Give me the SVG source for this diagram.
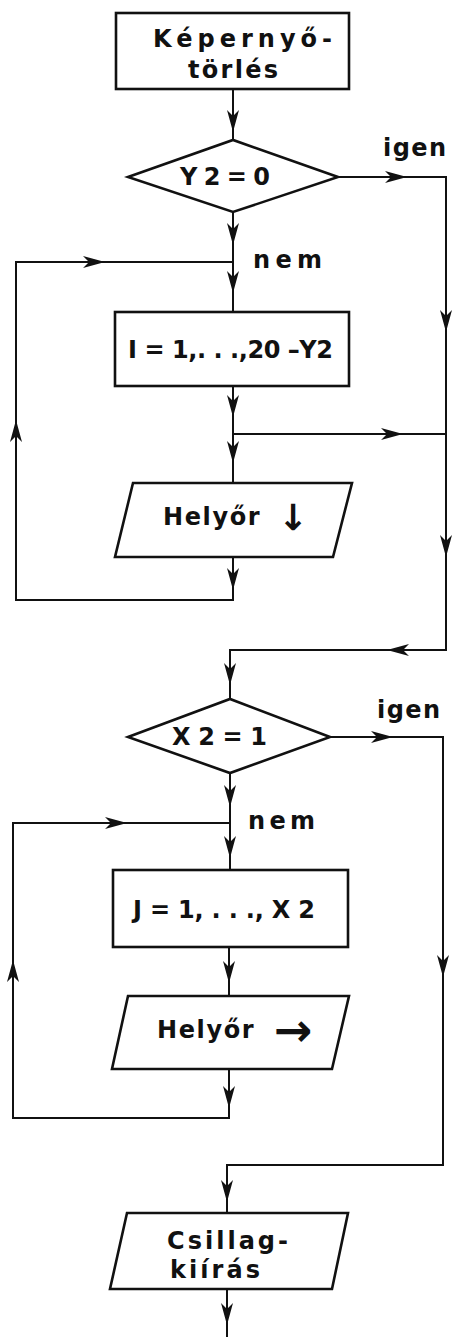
<svg xmlns="http://www.w3.org/2000/svg" width="452" height="1337" viewBox="0 0 452 1337">
<style>
.shape{fill:#fff;stroke:#111;stroke-width:2.6;stroke-linejoin:miter}
.ln{fill:none;stroke:#111;stroke-width:2}
.ah{fill:none;stroke:none;marker-end:url(#arr)}
text{font-family:"DejaVu Sans","Liberation Sans",sans-serif;font-size:24px;font-weight:bold;fill:#111}
</style>
<defs>
<marker id="arr" viewBox="0 0 22 12" refX="22" refY="6" markerWidth="22" markerHeight="12" markerUnits="userSpaceOnUse" orient="auto">
<path d="M0,0 L22,6 L0,12 L6,6 z" fill="#111"/>
</marker>
</defs>
<rect width="452" height="1337" fill="#fff"/>
<g id="connectors">
<path class="ln" d="M233,89 V140"/>
<path class="ln" d="M338,177 H446 V650 H230 V699"/>
<path class="ln" d="M233,212 V312"/>
<path class="ln" d="M233,386 V483"/>
<path class="ln" d="M233,434 H446"/>
<path class="ln" d="M233,557 V600 H16 V262 H233"/>
<path class="ln" d="M330,737 H443 V1165 H227 V1213"/>
<path class="ln" d="M230,773 V870"/>
<path class="ln" d="M229,947 V996"/>
<path class="ln" d="M229,1069 V1118 H13 V823 H230"/>
<path class="ln" d="M227,1289 V1337"/>
<path class="ah" d="M233,118 V132"/>
<path class="ah" d="M393,177 H407"/>
<path class="ah" d="M233,231 V245"/>
<path class="ah" d="M233,279 V293"/>
<path class="ah" d="M91,262 H105"/>
<path class="ah" d="M446,318 V332"/>
<path class="ah" d="M16,434 V420"/>
<path class="ah" d="M233,403 V417"/>
<path class="ah" d="M389,434 H403"/>
<path class="ah" d="M233,449 V463"/>
<path class="ah" d="M446,543 V557"/>
<path class="ah" d="M233,576 V590"/>
<path class="ah" d="M401,650 H387"/>
<path class="ah" d="M230,671 V685"/>
<path class="ah" d="M379,737 H393"/>
<path class="ah" d="M230,793 V807"/>
<path class="ah" d="M113,823 H127"/>
<path class="ah" d="M230,844 V858"/>
<path class="ah" d="M443,963 V977"/>
<path class="ah" d="M13,974 V960"/>
<path class="ah" d="M229,969 V983"/>
<path class="ah" d="M229,1094 V1108"/>
<path class="ah" d="M227,1188 V1202"/>
<path class="ah" d="M227,1311 V1325"/>
</g>
<g id="n-kepernyo">
<rect class="shape" x="116" y="13" width="233" height="76"/>
<text x="153" y="47" textLength="179" lengthAdjust="spacing">Képernyő-</text>
<text x="188" y="78" textLength="90" lengthAdjust="spacing">törlés</text>
</g>
<g id="n-y2">
<polygon class="shape" points="128,177 233,140 338,177 233,212"/>
<text x="180" y="185" textLength="90" lengthAdjust="spacing">Y2=0</text>
</g>
<g id="lbl-igen1"><text x="383" y="156" textLength="63" lengthAdjust="spacing">igen</text></g>
<g id="lbl-nem1"><text x="253" y="268" textLength="69" lengthAdjust="spacing">nem</text></g>
<g id="n-loop-i">
<rect class="shape" x="115" y="312" width="234" height="74"/>
<text x="128" y="358" textLength="205" lengthAdjust="spacing">I = 1,. . .,20 –Y2</text>
</g>
<g id="n-helyor1">
<polygon class="shape" points="133,483 352,483 333,557 115,557"/>
<text x="163" y="525" letter-spacing="1.6">Helyőr<tspan x="278" y="530" font-size="36" letter-spacing="0">↓</tspan></text>
</g>
<g id="n-x2">
<polygon class="shape" points="128,737 230,699 330,737 230,773"/>
<text x="172" y="745" textLength="95" lengthAdjust="spacing">X 2 = 1</text>
</g>
<g id="lbl-igen2"><text x="377" y="718" textLength="63" lengthAdjust="spacing">igen</text></g>
<g id="lbl-nem2"><text x="248" y="829" textLength="67" lengthAdjust="spacing">nem</text></g>
<g id="n-loop-j">
<rect class="shape" x="113" y="870" width="235" height="77"/>
<text x="133" y="918" textLength="182" lengthAdjust="spacing">J = 1, . . ., X 2</text>
</g>
<g id="n-helyor2">
<polygon class="shape" points="128,996 349,996 332,1069 112,1069"/>
<text x="157" y="1038" letter-spacing="1.6">Helyőr<tspan x="274" y="1046" font-size="46" letter-spacing="0">→</tspan></text>
</g>
<g id="n-csillag">
<polygon class="shape" points="127,1213 348,1213 332,1289 110,1289"/>
<text x="167" y="1249" textLength="121" lengthAdjust="spacing">Csillag-</text>
<text x="170" y="1278" textLength="90" lengthAdjust="spacing">kiírás</text>
</g>
</svg>
